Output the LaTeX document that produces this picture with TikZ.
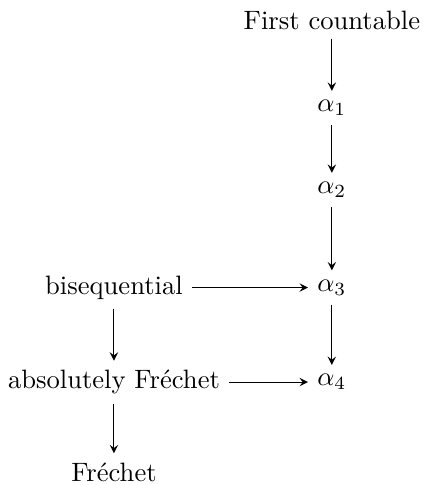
\documentclass[tikz,border=0pt]{standalone}
\usepackage{tikz}
\usetikzlibrary{arrows.meta,positioning}

\begin{document}
\begin{tikzpicture}[imp/.style={-stealth}]
    \useasboundingbox (0,0) rectangle (5.59,-6.41);
    \node (fc) at (4.386,-0.264) {First countable};
    \node (a1) at (4.386,-1.427) {$\alpha_1$};
    \node (a2) at (4.386,-2.51) {$\alpha_2$};
    \node (a3) at (4.386,-3.80) {$\alpha_3$};
    \node (a4) at (4.386,-5.05) {$\alpha_4$};
    \node (bs) at (1.506,-3.80) {bisequential};
    \node (af) at (1.506,-5.05) {absolutely Fr\'echet};
    \node (fr) at (1.506,-6.24) {Fr\'echet};
    \draw[imp] (fc) -- (a1);
    \draw[imp] (a1) -- (a2);
    \draw[imp] (a2) -- (a3);
    \draw[imp] (a3) -- (a4);
    \draw[imp] (bs) -- (a3);
    \draw[imp] (af) -- (a4);
    \draw[imp] (bs) -- (af);
    \draw[imp] (af) -- (fr);
  \end{tikzpicture}
\end{document}
